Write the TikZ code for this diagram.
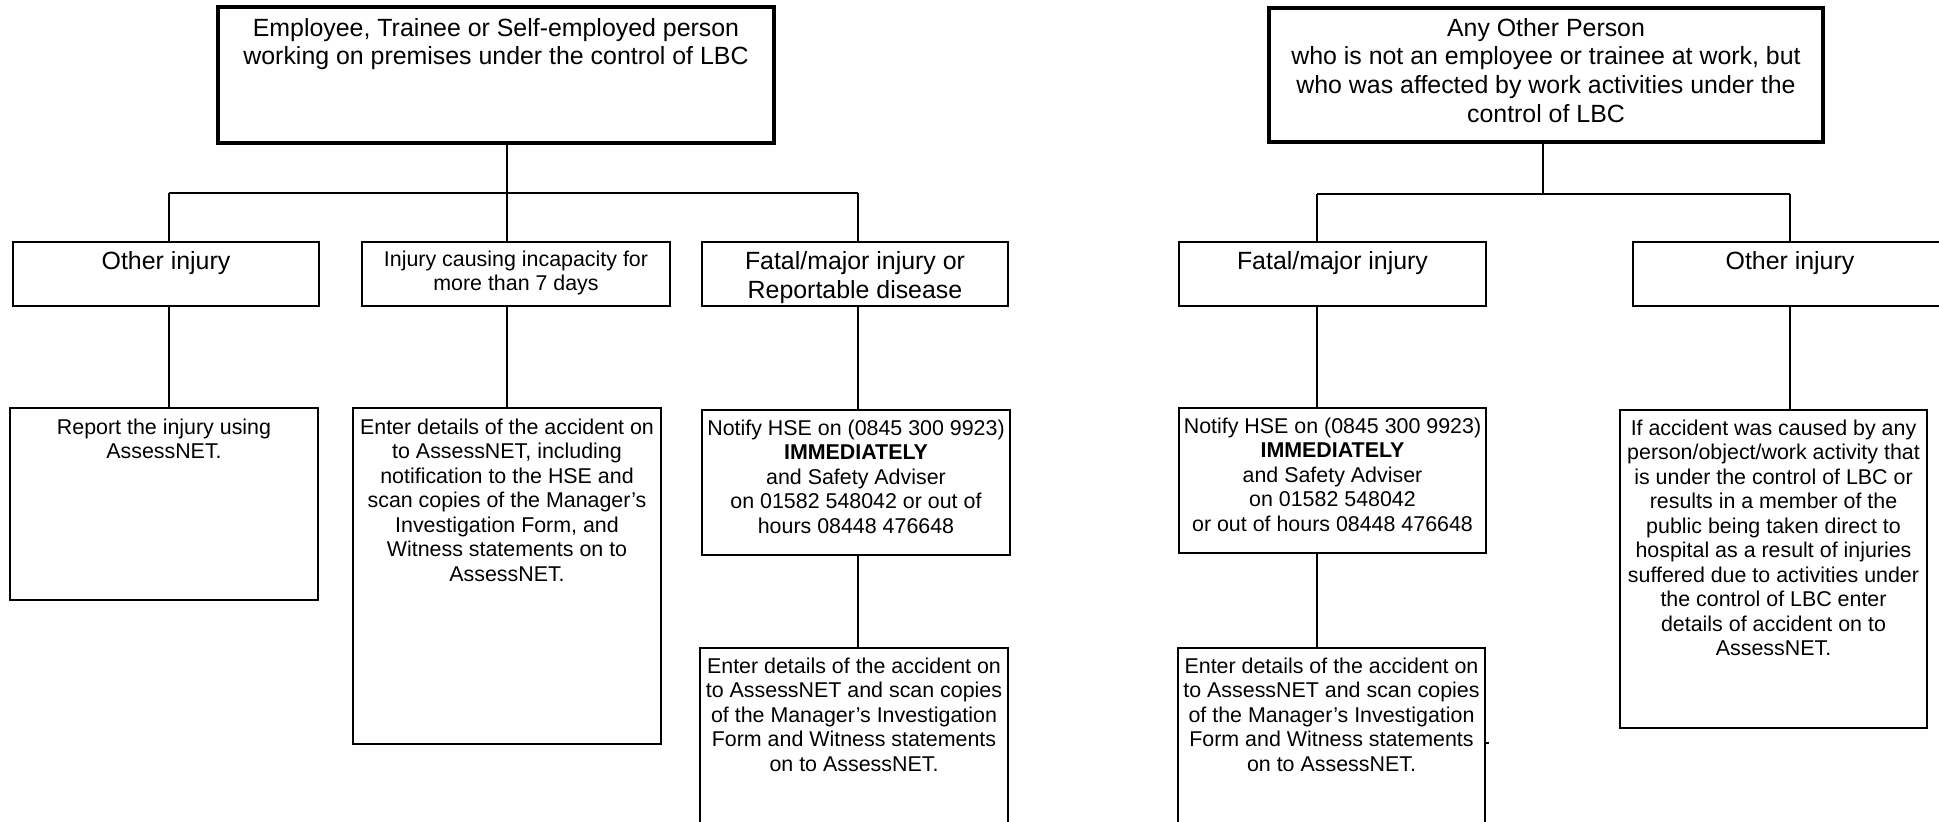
\documentclass[tikz,border=0pt]{standalone}
\usepackage{fontspec}
\setmainfont{Liberation Sans}
\tikzset{
  thinbox/.style={draw, line width=2pt, inner sep=0pt, outer sep=0pt, rectangle},
  thickbox/.style={draw, line width=4.7pt, inner sep=0pt, outer sep=0pt, rectangle},
  conn/.style={line width=1.4pt},
  txtL/.style={font=\fontsize{24.9}{28.8}\selectfont, align=center, inner sep=0pt, anchor=north},
  txtS/.style={font=\fontsize{21.4}{24.5}\selectfont, align=center, inner sep=0pt, anchor=north},
}
\begin{document}
\begin{tikzpicture}[x=1pt,y=-1pt]
\useasboundingbox (0,0) rectangle (1939,822);
\fill[white] (0,0) rectangle (1939,822);
\clip (0,0) rectangle (1939,822);

% ---------- left tree ----------
\node[thickbox, minimum width=556, minimum height=136] (box1) at (496,75) {};
\node[thinbox, minimum width=306, minimum height=64] (A) at (166,274) {};
\node[thinbox, minimum width=308, minimum height=64] (B) at (516,274) {};
\node[thinbox, minimum width=306, minimum height=64] (C) at (855,274) {};
\node[thinbox, minimum width=308, minimum height=192] (R1) at (164,504) {};
\node[thinbox, minimum width=308, minimum height=336] (R2) at (507,576) {};
\node[thinbox, minimum width=308, minimum height=145] (R3) at (856,482.5) {};
\node[thinbox, minimum width=308, minimum height=192] (R4) at (854,744) {};

\node[txtL] (t1) at (496,15.8) {\strut Employee, Trainee or Self-employed person\\working on premises under the control of LBC};
\node[txtL] (tA) at (166,249.3) {\strut Other injury};
\node[txtS] (tB) at (516,248.9) {\strut Injury causing incapacity for\\more than 7 days};
\node[txtL] (tC) at (855,249.3) {\strut Fatal/major injury or\\Reportable disease};
\node[txtS] (tR1) at (164,416.9) {\strut Report the injury using\\AssessNET.};
\node[txtS] (tR2) at (507,416.9) {\strut Enter details of the accident on\\to AssessNET, including\\notification to the HSE and\\scan copies of the Manager’s\\Investigation Form, and\\Witness statements on to\\AssessNET.};
\node[txtS] (tR3) at (856,417.9) {\strut Notify HSE on (0845 300 9923)\\\textbf{IMMEDIATELY}\\and Safety Adviser\\on 01582 548042 or out of\\hours 08448 476648};
\node[txtS] (tR4) at (854,655.9) {\strut Enter details of the accident on\\to AssessNET and scan copies\\of the Manager’s Investigation\\Form and Witness statements\\on to AssessNET.};

\coordinate (jL1) at (507,193);
\coordinate (hL1) at (169,193);
\coordinate (hL2) at (858,193);
\draw[conn] (box1.south -| jL1) -- (jL1);
\draw[conn] (hL1) -- (hL2);
\draw[conn] (hL1) -- (A.north -| hL1);
\draw[conn] (jL1) -- (B.north -| jL1);
\draw[conn] (hL2) -- (C.north -| hL2);
\draw[conn] (A.south -| hL1) -- (R1.north -| hL1);
\draw[conn] (B.south -| jL1) -- (R2.north -| jL1);
\draw[conn] (C.south -| hL2) -- (R3.north -| hL2);
\draw[conn] (R3.south -| hL2) -- (R4.north -| hL2);

% ---------- right tree ----------
\node[thickbox, minimum width=554, minimum height=134] (box2) at (1546,75) {};
\node[thinbox, minimum width=307, minimum height=64] (D) at (1332.5,274) {};
\node[thinbox, minimum width=314, minimum height=64] (E) at (1790,274) {};
\node[thinbox, minimum width=307, minimum height=145] (R5) at (1332.5,480.5) {};
\node[thinbox, minimum width=307, minimum height=192] (R6) at (1331.5,744) {};
\node[thinbox, minimum width=307, minimum height=318] (R7) at (1773.5,569) {};

\node[txtL] (t2) at (1546,15.8) {\strut Any Other Person\\who is not an employee or trainee at work, but\\who was affected by work activities under the\\control of LBC};
\node[txtL] (tD) at (1332.5,249.3) {\strut Fatal/major injury};
\node[txtL] (tE) at (1790,249.3) {\strut Other injury};
\node[txtS] (tR5) at (1332.5,415.9) {\strut Notify HSE on (0845 300 9923)\\\textbf{IMMEDIATELY}\\and Safety Adviser\\on 01582 548042\\or out of hours 08448 476648};
\node[txtS] (tR6) at (1331.5,655.9) {\strut Enter details of the accident on\\to AssessNET and scan copies\\of the Manager’s Investigation\\Form and Witness statements\\on to AssessNET.};
\node[txtS] (tR7) at (1773.5,417.9) {\strut If accident was caused by any\\person/object/work activity that\\is under the control of LBC or\\results in a member of the\\public being taken direct to\\hospital as a result of injuries\\suffered due to activities under\\the control of LBC enter\\details of accident on to\\AssessNET.};

\coordinate (jR1) at (1543,194);
\coordinate (hR1) at (1317,194);
\coordinate (hR2) at (1790,194);
\draw[conn] (box2.south -| jR1) -- (jR1);
\draw[conn] (hR1) -- (hR2);
\draw[conn] (hR1) -- (D.north -| hR1);
\draw[conn] (hR2) -- (E.north -| hR2);
\draw[conn] (D.south -| hR1) -- (R5.north -| hR1);
\draw[conn] (R5.south -| hR1) -- (R6.north -| hR1);
\draw[conn] (E.south -| hR2) -- (R7.north -| hR2);

% small stray mark beside the lower right box
\coordinate (sm) at (R6.east |- 0,743);
\draw[conn] (sm) -- ++(4,0);
\end{tikzpicture}
\end{document}
